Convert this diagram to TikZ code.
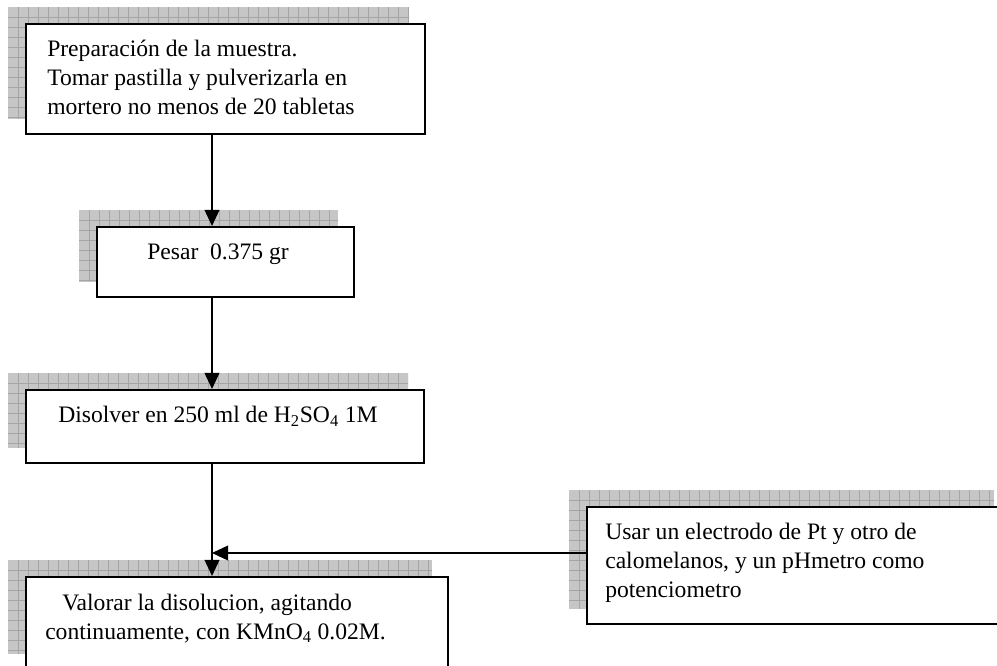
\documentclass[tikz,border=0pt]{standalone}
\usepackage{fontspec}
\setmainfont{Liberation Serif}
\usetikzlibrary{calc,backgrounds,arrows.meta}
\newcommand\shadowof[1]{%
  \begin{scope}[on background layer]
    \coordinate (#1-sa) at ($(#1.north west)+(-17,-16)$);
    \coordinate (#1-sb) at ($(#1.south east)+(-17,-16)$);
    \fill[shfill] (#1-sa) rectangle (#1-sb);
    \begin{scope}
      \clip (#1-sa) rectangle (#1-sb);
      \begin{scope}[shift={(#1-sa)}]
        \foreach \i in {10,20,...,450} {\draw[shgrid] (\i,0) -- (\i,140);}
        \foreach \j in {10,20,...,130} {\draw[shgrid] (0,\j) -- (460,\j);}
      \end{scope}
    \end{scope}
  \end{scope}}
\begin{document}
\begin{tikzpicture}[x=0.75pt,y=-0.75pt,
  box/.style={draw=black, line width=1.5pt, fill=white, inner sep=0pt, anchor=north west},
  txt/.style={inner sep=0pt, anchor=base west, font=\fontsize{17.7}{21.75}\selectfont},
  arr/.style={line width=1.2pt, -{Triangle[length=12pt,width=11pt]}},
  shfill/.style={fill={rgb,255:red,198;green,198;blue,198}},
  shgrid/.style={draw={rgb,255:red,165;green,165;blue,165}, line width=0.6pt}
]
\useasboundingbox (0,0) rectangle (997,666);

% boxes
\node[box, minimum width=399*0.75pt, minimum height=110*0.75pt] (b1) at (25,23) {};
\node[box, minimum width=257*0.75pt, minimum height=70*0.75pt] (b2) at (96,226) {};
\node[box, minimum width=398*0.75pt, minimum height=73*0.75pt] (b3) at (25,389) {};
\node[box, minimum width=422*0.75pt, minimum height=92*0.75pt] (b4) at (25,576) {};
\node[box, minimum width=423*0.75pt, minimum height=117*0.75pt] (b5) at (586,506) {};

\shadowof{b1}
\shadowof{b2}
\shadowof{b3}
\shadowof{b4}
\shadowof{b5}

% texts
\node[txt] (t1) at ($(b1.north west)+(22,34)$) {\begin{tabular}[t]{@{}l@{}}Preparación de la muestra.\\Tomar pastilla y pulverizarla en\\mortero no menos de 20 tabletas\end{tabular}};
\node[txt] (t2) at ($(b2.north west)+(51,34)$) {Pesar\ \ 0.375 gr};
\node[txt] (t3) at ($(b3.north west)+(33,34)$) {Disolver en 250 ml de H\textsubscript{2}SO\textsubscript{4} 1M};
\node[txt] (t4) at ($(b4.north west)+(20,34)$) {\begin{tabular}[t]{@{}l@{}}\hspace*{12.75pt}Valorar la disolucion, agitando\\continuamente, con KMnO\textsubscript{4} 0.02M.\end{tabular}};
\node[txt] (t5) at ($(b5.north west)+(19,34)$) {\begin{tabular}[t]{@{}l@{}}Usar un electrodo de Pt y otro de\\calomelanos, y un pHmetro como\\potenciometro\end{tabular}};

% connectors
\coordinate (ax) at (212,0);
\coordinate (ay) at (0,553);
\draw[arr] (b1.south -| ax) -- (b2.north -| ax);
\draw[arr] (b2.south -| ax) -- (b3.north -| ax);
\draw[arr] (b3.south -| ax) -- (b4.north -| ax);
\draw[arr] (b5.west |- ay) -- (ax |- ay);
\end{tikzpicture}
\end{document}
